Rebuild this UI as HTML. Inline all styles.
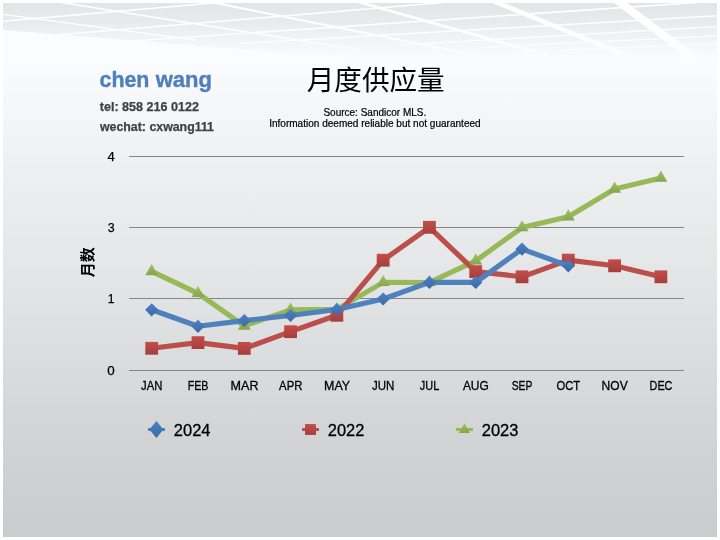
<!DOCTYPE html>
<html lang="zh-Hans">
<head>
<meta charset="utf-8">
<title>月度供应量</title>
<style>
html,body{margin:0;padding:0;background:#fff;}
body{width:720px;height:540px;overflow:hidden;position:relative;font-family:"Liberation Sans","Noto Sans CJK SC",sans-serif;}
svg{position:absolute;left:0;top:0;display:block;}
text{font-family:"Liberation Sans","Noto Sans CJK SC",sans-serif;}
.cjk{font-family:"Liberation Sans","Noto Sans CJK SC",sans-serif;}
</style>
</head>
<body>
<svg width="720" height="540" viewBox="0 0 720 540">
<defs>
<linearGradient id="bg" x1="0" y1="0" x2="0" y2="1">
<stop offset="0" stop-color="#fbfcfe"/>
<stop offset="0.10" stop-color="#fbfcfe"/>
<stop offset="0.30" stop-color="#eff0f2"/>
<stop offset="0.55" stop-color="#e2e3e5"/>
<stop offset="0.80" stop-color="#d2d4d6"/>
<stop offset="1" stop-color="#c9cccd"/>
</linearGradient>
<linearGradient id="gb" x1="0" y1="0" x2="0" y2="1"><stop offset="0" stop-color="#4c80c4"/><stop offset="1" stop-color="#3d6aa6"/></linearGradient>
<linearGradient id="gr" x1="0" y1="0" x2="0" y2="1"><stop offset="0" stop-color="#c44d49"/><stop offset="1" stop-color="#a53f3c"/></linearGradient>
<linearGradient id="gg" x1="0" y1="0" x2="0" y2="1"><stop offset="0" stop-color="#a0c25c"/><stop offset="1" stop-color="#86a64e"/></linearGradient>
<linearGradient id="fade" x1="0" y1="0" x2="0" y2="1">
<stop offset="0" stop-color="#fbfcfe" stop-opacity="0"/>
<stop offset="0.3" stop-color="#fbfcfe" stop-opacity="0.26"/>
<stop offset="0.6" stop-color="#fbfcfe" stop-opacity="0.64"/>
<stop offset="0.9" stop-color="#fbfcfe" stop-opacity="1"/>
<stop offset="1" stop-color="#fbfcfe" stop-opacity="1"/>
</linearGradient>
<clipPath id="clipbg"><rect x="3" y="3" width="714" height="534"/></clipPath>
</defs>
<rect x="0" y="0" width="720" height="540" fill="#ffffff"/>
<rect x="3" y="3" width="714" height="534" fill="url(#bg)"/>
<g clip-path="url(#clipbg)">
<path d="M3 3H717V62H400L3 30Z" fill="#e3e4e6"/>
<line x1="3" y1="21.2" x2="230" y2="1.6" stroke="#fff" stroke-width="1.6"/>
<line x1="56.7" y1="35" x2="460" y2="1.1" stroke="#fff" stroke-width="1.5"/>
<line x1="120" y1="41.7" x2="710" y2="1.6" stroke="#fff" stroke-width="1.6"/>
<line x1="240" y1="43.5" x2="716.7" y2="15.8" stroke="#fff" stroke-width="1.4"/>
<line x1="400" y1="45" x2="716.7" y2="26.7" stroke="#fff" stroke-width="1.3"/>
<line x1="480" y1="47.5" x2="716.7" y2="35.8" stroke="#fff" stroke-width="1.2"/>
<line x1="560" y1="50" x2="716.7" y2="43.7" stroke="#fff" stroke-width="1.0"/>
<line x1="3" y1="14.4" x2="195" y2="40" stroke="#fff" stroke-width="1.4"/>
<line x1="52" y1="1.0" x2="360" y2="50" stroke="#fff" stroke-width="1.6"/>
<line x1="203" y1="0.5" x2="480" y2="56" stroke="#fff" stroke-width="2.0"/>
<line x1="353" y1="0.4" x2="546" y2="55" stroke="#fff" stroke-width="2.8"/>
<line x1="486" y1="-2" x2="625" y2="55" stroke="#fff" stroke-width="4.5"/>
<line x1="612" y1="-3.5" x2="695" y2="59" stroke="#fff" stroke-width="8.0"/>
<rect x="3" y="3" width="714" height="62" fill="url(#fade)"/>
</g>

<rect x="129" y="156" width="555" height="1" fill="#868686"/>
<rect x="129" y="227" width="555" height="1" fill="#868686"/>
<rect x="129" y="298" width="555" height="1" fill="#868686"/>
<rect x="129" y="370" width="555" height="1" fill="#868686"/>
<polyline points="151.70,271.45 197.99,293.35 244.28,325.95 290.57,309.85 336.86,309.35 383.15,282.35 429.44,282.45 475.73,260.85 522.02,227.55 568.31,216.75 614.60,188.95 660.89,177.95" fill="none" stroke="#98b95a" stroke-width="5.15" stroke-linejoin="round" stroke-linecap="round"/>
<polyline points="151.70,348.30 197.99,342.60 244.28,348.40 290.57,331.70 336.86,315.30 383.15,260.20 429.44,227.30 475.73,271.60 522.02,276.80 568.31,260.10 614.60,265.80 660.89,276.80" fill="none" stroke="#bb4f4b" stroke-width="5.15" stroke-linejoin="round" stroke-linecap="round"/>
<path d="M151.70 264.05L158.10 275.15L145.30 275.15Z" fill="url(#gg)"/>
<path d="M197.99 285.95L204.39 297.05L191.59 297.05Z" fill="url(#gg)"/>
<path d="M244.28 318.55L250.68 329.65L237.88 329.65Z" fill="url(#gg)"/>
<path d="M290.57 302.45L296.97 313.55L284.17 313.55Z" fill="url(#gg)"/>
<path d="M336.86 301.95L343.26 313.05L330.46 313.05Z" fill="url(#gg)"/>
<path d="M383.15 274.95L389.55 286.05L376.75 286.05Z" fill="url(#gg)"/>
<path d="M429.44 275.05L435.84 286.15L423.04 286.15Z" fill="url(#gg)"/>
<path d="M475.73 253.45L482.13 264.55L469.33 264.55Z" fill="url(#gg)"/>
<path d="M522.02 220.15L528.42 231.25L515.62 231.25Z" fill="url(#gg)"/>
<path d="M568.31 209.35L574.71 220.45L561.91 220.45Z" fill="url(#gg)"/>
<path d="M614.60 181.55L621.00 192.65L608.20 192.65Z" fill="url(#gg)"/>
<path d="M660.89 170.55L667.29 181.65L654.49 181.65Z" fill="url(#gg)"/>
<rect x="145.30" y="341.90" width="12.80" height="12.80" fill="url(#gr)"/>
<rect x="191.59" y="336.20" width="12.80" height="12.80" fill="url(#gr)"/>
<rect x="237.88" y="342.00" width="12.80" height="12.80" fill="url(#gr)"/>
<rect x="284.17" y="325.30" width="12.80" height="12.80" fill="url(#gr)"/>
<rect x="330.46" y="308.90" width="12.80" height="12.80" fill="url(#gr)"/>
<rect x="376.75" y="253.80" width="12.80" height="12.80" fill="url(#gr)"/>
<rect x="423.04" y="220.90" width="12.80" height="12.80" fill="url(#gr)"/>
<rect x="469.33" y="265.20" width="12.80" height="12.80" fill="url(#gr)"/>
<rect x="515.62" y="270.40" width="12.80" height="12.80" fill="url(#gr)"/>
<rect x="561.91" y="253.70" width="12.80" height="12.80" fill="url(#gr)"/>
<rect x="608.20" y="259.40" width="12.80" height="12.80" fill="url(#gr)"/>
<rect x="654.49" y="270.40" width="12.80" height="12.80" fill="url(#gr)"/>
<polyline points="151.70,309.80 197.99,326.30 244.28,320.60 290.57,315.50 336.86,309.50 383.15,299.00 429.44,282.40 475.73,282.40 522.02,249.10 568.31,265.80" fill="none" stroke="#4f81bd" stroke-width="5.15" stroke-linejoin="round" stroke-linecap="round"/>
<path d="M151.70 303.20L158.30 309.80L151.70 316.40L145.10 309.80Z" fill="url(#gb)"/>
<path d="M197.99 319.70L204.59 326.30L197.99 332.90L191.39 326.30Z" fill="url(#gb)"/>
<path d="M244.28 314.00L250.88 320.60L244.28 327.20L237.68 320.60Z" fill="url(#gb)"/>
<path d="M290.57 308.90L297.17 315.50L290.57 322.10L283.97 315.50Z" fill="url(#gb)"/>
<path d="M336.86 302.90L343.46 309.50L336.86 316.10L330.26 309.50Z" fill="url(#gb)"/>
<path d="M383.15 292.40L389.75 299.00L383.15 305.60L376.55 299.00Z" fill="url(#gb)"/>
<path d="M429.44 275.80L436.04 282.40L429.44 289.00L422.84 282.40Z" fill="url(#gb)"/>
<path d="M475.73 275.80L482.33 282.40L475.73 289.00L469.13 282.40Z" fill="url(#gb)"/>
<path d="M522.02 242.50L528.62 249.10L522.02 255.70L515.42 249.10Z" fill="url(#gb)"/>
<path d="M568.31 259.20L574.91 265.80L568.31 272.40L561.71 265.80Z" fill="url(#gb)"/>
<text x="107.45" y="160.50" font-size="12.8" fill="#000" stroke="#000" stroke-width="0.25" textLength="7.28" lengthAdjust="spacingAndGlyphs">4</text>
<text x="107.67" y="231.50" font-size="12.8" fill="#000" stroke="#000" stroke-width="0.25" textLength="6.94" lengthAdjust="spacingAndGlyphs">3</text>
<text x="107.75" y="302.50" font-size="12.8" fill="#000" stroke="#000" stroke-width="0.25" textLength="6.80" lengthAdjust="spacingAndGlyphs">1</text>
<text x="107.33" y="374.50" font-size="12.8" fill="#000" stroke="#000" stroke-width="0.25" textLength="7.47" lengthAdjust="spacingAndGlyphs">0</text>
<text x="141.09" y="389.50" font-size="12.9" fill="#000" stroke="#000" stroke-width="0.3" textLength="21.26" lengthAdjust="spacingAndGlyphs">JAN</text>
<text x="187.63" y="389.50" font-size="12.9" fill="#000" stroke="#000" stroke-width="0.3" textLength="20.74" lengthAdjust="spacingAndGlyphs">FEB</text>
<text x="230.57" y="389.50" font-size="12.9" fill="#000" stroke="#000" stroke-width="0.3" textLength="27.92" lengthAdjust="spacingAndGlyphs">MAR</text>
<text x="279.11" y="389.50" font-size="12.9" fill="#000" stroke="#000" stroke-width="0.3" textLength="23.29" lengthAdjust="spacingAndGlyphs">APR</text>
<text x="324.06" y="389.50" font-size="12.9" fill="#000" stroke="#000" stroke-width="0.3" textLength="26.00" lengthAdjust="spacingAndGlyphs">MAY</text>
<text x="371.98" y="389.50" font-size="12.9" fill="#000" stroke="#000" stroke-width="0.3" textLength="22.39" lengthAdjust="spacingAndGlyphs">JUN</text>
<text x="419.85" y="389.50" font-size="12.9" fill="#000" stroke="#000" stroke-width="0.3" textLength="19.39" lengthAdjust="spacingAndGlyphs">JUL</text>
<text x="462.89" y="389.50" font-size="12.9" fill="#000" stroke="#000" stroke-width="0.3" textLength="25.88" lengthAdjust="spacingAndGlyphs">AUG</text>
<text x="511.69" y="389.50" font-size="12.9" fill="#000" stroke="#000" stroke-width="0.3" textLength="20.70" lengthAdjust="spacingAndGlyphs">SEP</text>
<text x="556.47" y="389.50" font-size="12.9" fill="#000" stroke="#000" stroke-width="0.3" textLength="23.72" lengthAdjust="spacingAndGlyphs">OCT</text>
<text x="601.58" y="389.50" font-size="12.9" fill="#000" stroke="#000" stroke-width="0.3" textLength="26.08" lengthAdjust="spacingAndGlyphs">NOV</text>
<text x="649.58" y="389.50" font-size="12.9" fill="#000" stroke="#000" stroke-width="0.3" textLength="22.83" lengthAdjust="spacingAndGlyphs">DEC</text>
<text class="cjk" transform="translate(93.2 262.3) rotate(-90)" font-size="15" font-weight="bold" text-anchor="middle" fill="#000">月数</text>
<rect x="148" y="428" width="17" height="3" fill="#4f81bd"/><path d="M156.40 421.10L163.40 429.50L156.40 437.90L149.40 429.50Z" fill="url(#gb)"/>
<text x="173.85" y="435.80" font-size="16.5" fill="#000" stroke="#000" stroke-width="0.3" textLength="36.60" lengthAdjust="spacingAndGlyphs">2024</text>
<rect x="302" y="428" width="17" height="3" fill="#be4f4c"/><rect x="305.05" y="424.05" width="10.90" height="10.90" fill="url(#gr)"/>
<text x="327.85" y="435.80" font-size="16.5" fill="#000" stroke="#000" stroke-width="0.3" textLength="36.55" lengthAdjust="spacingAndGlyphs">2022</text>
<rect x="456" y="428" width="17" height="3" fill="#98b95a"/><path d="M464.50 423.20L470.00 432.90L459.00 432.90Z" fill="url(#gg)"/>
<text x="481.75" y="435.80" font-size="16.5" fill="#000" stroke="#000" stroke-width="0.3" textLength="36.65" lengthAdjust="spacingAndGlyphs">2023</text>
<text y="87.1" font-size="22.5" font-weight="bold" fill="#5080bc" stroke="#5080bc" stroke-width="0.4"><tspan x="99.54" textLength="49.90" lengthAdjust="spacingAndGlyphs">chen</tspan> <tspan x="155.65" textLength="56.32" lengthAdjust="spacingAndGlyphs">wang</tspan></text>
<text x="99.75" y="111.00" font-size="13.0" font-weight="bold" fill="#404040" stroke="#404040" stroke-width="0.25" textLength="99.36" lengthAdjust="spacingAndGlyphs">tel: 858 216 0122</text>
<text x="99.95" y="131.00" font-size="13.0" font-weight="bold" fill="#404040" stroke="#404040" stroke-width="0.25" textLength="114.03" lengthAdjust="spacingAndGlyphs">wechat: cxwang111</text>
<text class="cjk" x="375.7" y="90.4" font-size="27.6" text-anchor="middle" fill="#000">月度供应量</text>
<text x="323.45" y="115.70" font-size="10.1" fill="#000" stroke="#000" stroke-width="0.2" textLength="102.84" lengthAdjust="spacingAndGlyphs">Source: Sandicor MLS.</text>
<text x="269.16" y="126.70" font-size="10.1" fill="#000" stroke="#000" stroke-width="0.2" textLength="211.50" lengthAdjust="spacingAndGlyphs">Information deemed reliable but not guaranteed</text>
</svg>
</body>
</html>
